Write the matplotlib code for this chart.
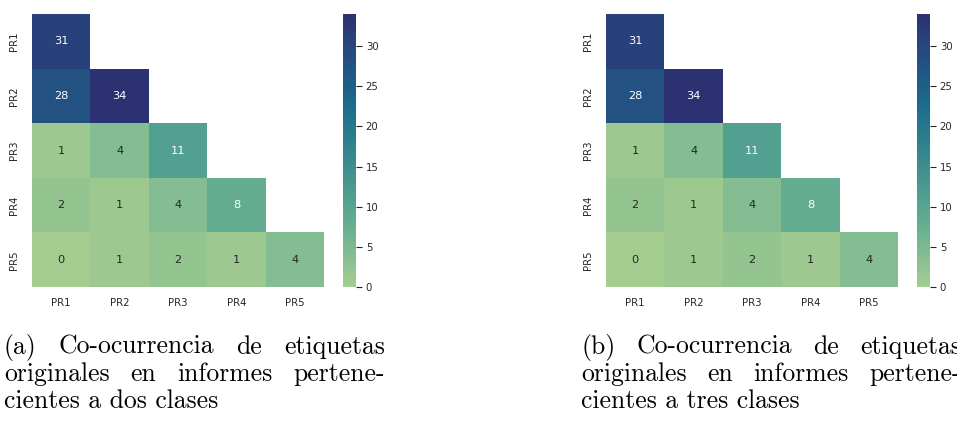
import matplotlib
matplotlib.use("Agg")
import matplotlib.pyplot as plt
import numpy as np
import seaborn as sns

sns.set_theme(style="white")

labels = ["PR1", "PR2", "PR3", "PR4", "PR5"]

# co-ocurrencias (triángulo inferior, fila a fila)
counts_two = [
    [31],
    [28, 34],
    [1, 4, 11],
    [2, 1, 4, 8],
    [0, 1, 2, 1, 4],
]
counts_three = [
    [31],
    [28, 34],
    [1, 4, 11],
    [2, 1, 4, 8],
    [0, 1, 2, 1, 4],
]

caption_a = [
    ["(a)", "Co-ocurrencia", "de", "etiquetas"],
    ["originales", "en", "informes", "pertene-"],
    ["cientes a dos clases"],
]
caption_b = [
    ["(b)", "Co-ocurrencia", "de", "etiquetas"],
    ["originales", "en", "informes", "pertene-"],
    ["cientes a tres clases"],
]

W, H = 957, 421


def to_matrix(rows):
    n = len(rows)
    m = np.zeros((n, n))
    for i, r in enumerate(rows):
        m[i, :len(r)] = r
    return m


def px(x, y, w=0, h=0):
    return [x / W, 1 - (y + h) / H, w / W, h / H]


def draw_heatmap(fig, rows, x_hm, x_cb):
    data = to_matrix(rows)
    mask = np.triu(np.ones_like(data, dtype=bool), k=1)
    ax = fig.add_axes(px(x_hm, 14, 292, 273))
    cax = fig.add_axes(px(x_cb, 14, 13, 273))
    sns.heatmap(data, mask=mask, cmap="crest", annot=True, fmt=".0f",
                annot_kws={"fontsize": 8.2}, ax=ax, cbar_ax=cax,
                xticklabels=labels, yticklabels=labels)
    ax.tick_params(length=0, labelsize=7.3, colors=".15")
    ax.tick_params(axis="x", pad=8)
    ax.tick_params(axis="y", pad=9)
    cax.tick_params(length=4, width=0.8, labelsize=7.3, colors=".15", pad=3,
                    right=True)
    cax.set_yticks([0, 5, 10, 15, 20, 25, 30])
    return ax


def justified(fig, words, x0, x1, y, **kw):
    r = fig.canvas.get_renderer()
    texts = [fig.text(0, 1 - y / H, w, va="baseline", ha="left", **kw) for w in words]
    widths = [t.get_window_extent(r).width for t in texts]
    gap = (x1 - x0 - sum(widths)) / (len(words) - 1)
    x = x0
    for t, w in zip(texts, widths):
        t.set_x(x / W)
        x += w + gap


def draw_caption(fig, lines, x0, x1):
    kw = dict(fontfamily="cmr10", fontsize=18.5, color="black")
    baselines = [354, 381, 408]
    for words, y in zip(lines, baselines):
        if len(words) > 1:
            justified(fig, words, x0, x1, y, **kw)
        else:
            fig.text(x0 / W, 1 - y / H, words[0], va="baseline", ha="left", **kw)


fig = plt.figure(figsize=(W / 100, H / 100), dpi=100)
draw_heatmap(fig, counts_two, 32, 343)
draw_heatmap(fig, counts_three, 606, 917)
draw_caption(fig, caption_a, 4, 385)
draw_caption(fig, caption_b, 581, 961)

fig.savefig("out.png", dpi=100)
